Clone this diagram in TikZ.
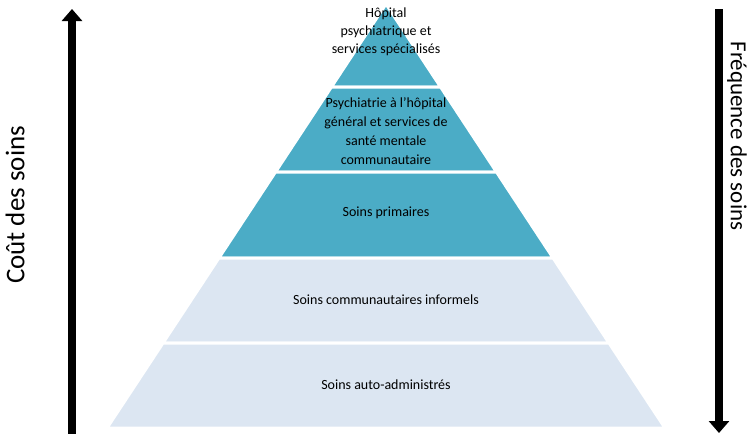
\documentclass[tikz,border=0pt]{standalone}
\usepackage{fontspec}
\setmainfont{Carlito}
\usetikzlibrary{arrows.meta}
\definecolor{teal1}{HTML}{4BACC6}
\definecolor{pale1}{HTML}{DCE6F2}
\begin{document}
\begin{tikzpicture}[x=1pt,y=-1pt,
  layerA/.style={fill=teal1,draw=white,line width=3pt,line join=miter},
  layerB/.style={fill=pale1,draw=white,line width=3pt,line join=miter},
  lbl/.style={align=center,text=black,font=\fontsize{14}{18}\selectfont,inner sep=0pt},
  axis/.style={line width=8pt,-{Triangle[width=20pt,length=12pt]}},
  axlbl/.style={text=black,inner sep=0pt}]
\useasboundingbox (0,0) rectangle (753,434);
% pyramid layers
\path[layerA] (386,4) -- (440.6,87) -- (331.4,87) -- cycle;
\path[layerA] (331.4,87) -- (440.6,87) -- (496.5,172) -- (275.5,172) -- cycle;
\path[layerA] (275.5,172) -- (496.5,172) -- (553.1,258) -- (218.9,258) -- cycle;
\path[layerB] (218.9,258) -- (553.1,258) -- (609,343) -- (163,343) -- cycle;
\path[layerB] (163,343) -- (609,343) -- (665,428) -- (107,428) -- cycle;
% labels
\node[lbl] (t1) at (386,32) {Hôpital\\psychiatrique et\\services spécialisés};
\node[lbl,font=\fontsize{14}{19}\selectfont] (t2) at (386,131) {Psychiatrie à l’hôpital\\général et services de\\santé mentale\\communautaire};
\node[lbl] (t3) at (386,213) {Soins primaires};
\node[lbl] (t4) at (386,300) {Soins communautaires informels};
\node[lbl] (t5) at (386,385) {Soins auto-administrés};
% axes
\coordinate (la) at (72,434);
\coordinate (lb) at (72,9);
\draw[axis] (la) -- (lb);
\coordinate (ra) at (719,9);
\coordinate (rb) at (719,433);
\draw[axis] (ra) -- (rb);
\node[axlbl,rotate=90,font=\fontsize{27}{32}\selectfont] (cout) at (15,205) {Coût des soins};
\node[axlbl,rotate=-90,font=\fontsize{23}{28}\selectfont] (freq) at (737,136) {Fréquence des soins};
\end{tikzpicture}
\end{document}
